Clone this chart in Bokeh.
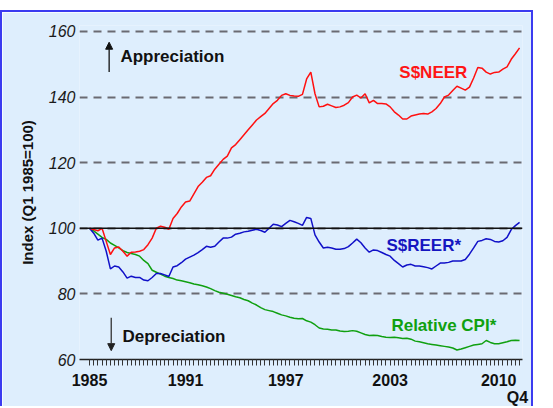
from bokeh.plotting import figure
from bokeh.models import Range1d, FixedTicker, Span, Arrow, NormalHead
from bokeh.core.properties import value
from bokeh.embed import file_html
from bokeh.resources import INLINE

# Quarterly data, 1985 Q1 .. 2010 Q4 (index, Q1 1985 = 100)
quarters = [f"{1985 + i // 4}Q{i % 4 + 1}" for i in range(104)]

neer = [100, 99.6, 99.2, 100, 96, 92, 94, 94.3, 93, 91.5,
        92.7, 92.8, 93, 93.5, 95, 97, 100, 100.6, 100.3, 99.7,
        103, 104.5, 106.5, 108, 108.3, 110.5, 112.7, 114, 115.5, 116,
        118, 119.5, 121, 122, 124.5, 125.5, 127, 128.5, 130, 131.5,
        133, 134, 135, 136.5, 138, 139, 140.5, 141, 140.5, 140.3,
        140.2, 140.8, 145.5, 147.6, 141, 137, 137.2, 137.8, 137.3, 136.8,
        137, 137.5, 138.3, 140, 140.6, 139.7, 141, 138.2, 139, 138,
        138, 137.9, 137, 135.5, 134.5, 133.3, 133.3, 134.2, 134.5, 134.8,
        135, 134.8, 135.5, 136.5, 138, 140, 140.6, 142, 143.3, 142.7,
        142.1, 143, 145.8, 149, 148.8, 147.6, 147, 147.5, 147.6, 148.5,
        149.2, 151.5, 153.2, 155]

reer = [100, 98.5, 96.4, 97, 93, 87.6, 88.5, 88.2, 86.7, 84.8,
        85.4, 85, 85, 84.2, 84, 85, 86.2, 86.2, 85.8, 85.3,
        88.2, 88.6, 89.5, 90.6, 91.2, 91.8, 92.6, 93.5, 94.5, 94.2,
        94.5, 95.8, 97, 97, 97.3, 98.2, 98.5, 98.9, 99.1, 99.4,
        99.7, 99.3, 98.8, 100, 101.2, 101, 100.5, 101.5, 102.4, 102,
        101.5, 100.9, 103.3, 103, 98, 95.8, 94, 94.2, 94, 93.6,
        93.6, 93.8, 94.4, 95.5, 96.7, 95.6, 94, 92.7, 93.4, 93.2,
        92.6, 92, 91.5, 90.2, 89.2, 88.2, 88.8, 89, 88.5, 88.5,
        88.3, 88, 87.6, 88.5, 89.4, 89.4, 89.6, 90, 90, 90,
        90.5, 92.1, 94, 96, 96.3, 96.8, 96.6, 96, 95.8, 96.2,
        97.2, 99.6, 100.8, 101.8]

cpi = [100, 99.2, 98.2, 97.2, 96.6, 95.5, 94.8, 94, 93.2, 92.6,
       92.3, 92, 91.5, 90.2, 89.2, 87.2, 86.6, 86, 85.4, 85,
       84.7, 84.2, 84, 83.7, 83.4, 83, 82.8, 82.5, 82.1, 81.6,
       81, 80.5, 80.2, 79.9, 79.5, 79.1, 78.8, 78.3, 77.9, 77.2,
       76.6, 75.8, 75.2, 74.9, 74.6, 74.1, 73.6, 73.3, 72.9, 72.6,
       72.4, 72.5, 71.8, 71.4, 70.6, 69.6, 69.3, 69.2, 69.0, 69.0,
       68.7, 68.5, 68.6, 68.8, 68.6, 68.1, 67.6, 67.3, 67.4, 67.3,
       67.0, 66.8, 66.7, 66.8, 66.6, 66.4, 66.5, 66.2, 65.6, 65.4,
       65.1, 64.8, 64.6, 64.4, 64.2, 64.0, 63.8, 63.5, 62.9, 63.2,
       63.6, 64.0, 64.4, 64.6, 64.8, 65.8, 65.2, 64.8, 64.8, 65.1,
       65.4, 65.8, 65.9, 65.8]

year_labels = ["1985", "1991", "1997", "2003", "2010", "\nQ4"]
year_label_pos = [0, 23, 47, 72, 98, 102.5]
y_ticks = [60, 80, 100, 120, 140, 160]
grid_ticks = [80, 100, 120, 140, 160]

x = list(range(len(quarters)))

BG = "#DEEEFD"
EDGE = "2px solid #3b3bf0"
FONT = "Liberation Sans"

p = figure(width=533, height=396, output_backend="svg", toolbar_location=None,
           x_range=Range1d(-2.4, 103.7), y_range=Range1d(60, 161.8),
           min_border_left=77, min_border_right=13, min_border_top=13,
           min_border_bottom=46,
           background_fill_color=BG, border_fill_color=BG,
           outline_line_color=None,
           styles={"margin-top": "10px", "margin-bottom": "-8px",
                   "border-left": EDGE, "border-top": EDGE,
                   "border-right": EDGE})

# grid
p.xgrid.visible = False
p.ygrid.ticker = FixedTicker(ticks=grid_ticks)
p.ygrid.grid_line_color = "#6a6a72"
p.ygrid.grid_line_dash = "8 6"
p.ygrid.grid_line_width = 2
p.add_layout(Span(location=100, dimension="width", line_color="#111111",
                  line_width=1.3))

# y axis
p.yaxis.ticker = FixedTicker(ticks=y_ticks)
p.yaxis.axis_line_color = None
p.yaxis.major_tick_line_color = None
p.yaxis.minor_tick_line_color = None
p.yaxis.major_tick_out = 0
p.yaxis.major_label_standoff = 4
p.yaxis.major_label_text_font = FONT
p.yaxis.major_label_text_font_style = "italic"
p.yaxis.major_label_text_font_size = "16px"
p.yaxis.major_label_text_color = "#1a1a1a"
p.yaxis.axis_label = "Index (Q1 1985=100)"
p.yaxis.axis_label_text_font = FONT
p.yaxis.axis_label_text_font_style = "bold"
p.yaxis.axis_label_text_font_size = "15px"
p.yaxis.axis_label_text_color = "#111111"
p.yaxis.axis_label_standoff = 10

# x axis
p.xaxis.ticker = FixedTicker(ticks=year_label_pos, minor_ticks=x)
p.xaxis.major_label_overrides = dict(zip(year_label_pos, year_labels))
p.xaxis.major_tick_line_color = None
p.xaxis.major_tick_in = 0
p.xaxis.major_tick_out = 6
p.xaxis.minor_tick_in = 0
p.xaxis.minor_tick_out = 6
p.xaxis.minor_tick_line_color = "#333333"
p.xaxis.axis_line_color = "#222222"
p.xaxis.axis_line_width = 1.5
p.xaxis.major_label_standoff = 6
p.xaxis.major_label_text_font = FONT
p.xaxis.major_label_text_font_style = "bold"
p.xaxis.major_label_text_font_size = "16px"
p.xaxis.major_label_text_line_height = 1.0
p.xaxis.major_label_text_color = "#111111"

# series
p.line(x, cpi, line_color="#10A010", line_width=1.5)
p.line(x, reer, line_color="#1010C8", line_width=1.5)
p.line(x, neer, line_color="#FF1010", line_width=1.5)

# series labels
def lab(xx, yy, txt, color):
    p.text(x=[xx], y=[yy], text=[txt], text_font=value(FONT),
           text_font_style="bold", text_font_size="17px",
           text_baseline="middle", text_align="left", text_color=color)

lab(74.2, 147.6, "S$NEER", "#FF1515")
lab(71.1, 94.8, "S$REER*", "#1515C0")
lab(72.3, 70.3, "Relative CPI*", "#10A010")
lab(7.4, 152.4, "Appreciation", "#111111")
lab(7.9, 67.0, "Depreciation", "#111111")

# arrows
p.add_layout(Arrow(end=NormalHead(size=7, fill_color="#111111", line_color="#111111"),
                   x_start=4.7, y_start=147.6, x_end=4.7, y_end=156.7,
                   line_width=1.3, line_color="#111111"))
p.add_layout(Arrow(end=NormalHead(size=7, fill_color="#222222", line_color="#222222"),
                   x_start=5.2, y_start=72.7, x_end=5.2, y_end=62.7,
                   line_width=1.3, line_color="#333333"))

open("out.html", "w").write(file_html(p, INLINE))
